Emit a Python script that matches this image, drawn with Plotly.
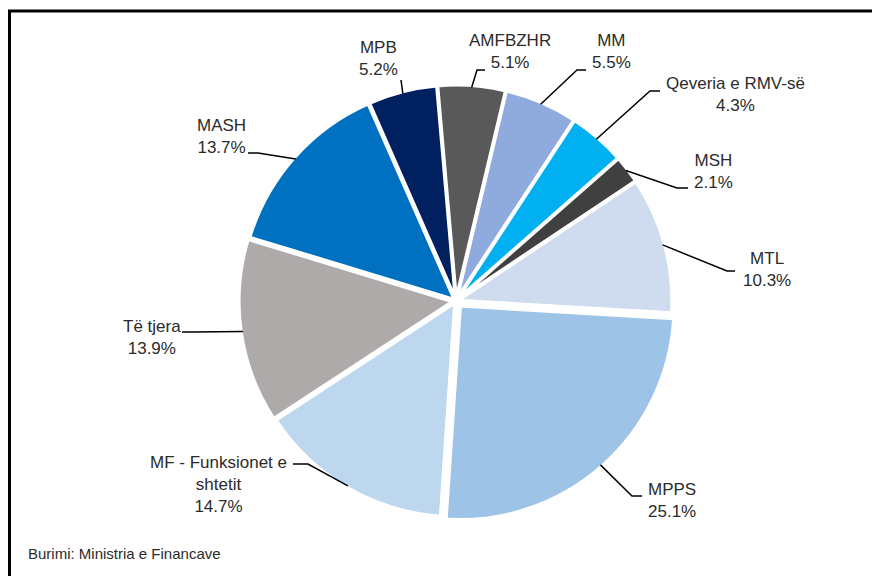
import math
import plotly.graph_objects as go

# ---- data ----
labels = ["AMFBZHR", "MM", "Qeveria e RMV-së", "MSH", "MTL", "MPPS",
          "MF - Funksionet e<br>shtetit", "Të tjera", "MASH", "MPB"]
values = [5.1, 5.5, 4.3, 2.1, 10.3, 25.1, 14.7, 13.9, 13.7, 5.2]
source_note = "Burimi: Ministria e Financave"

# ---- styles ----
colors = ["#595959", "#8FAADC", "#00B0F0", "#404040", "#CFDBEE",
          "#9DC3E6", "#BDD7EE", "#AEAAAA", "#0070C0", "#002060"]
pulls = [0.01, 0.01, 0.01, 0.01, 0.01, 0.03, 0.01, 0.015, 0.01, 0.01]
W, H = 880, 576
OFF = 8  # page body margin of the browser
CX, CY, R = 456, 301, 214
ROT = -5
# label block centres and leader-line elbow points (screen pixels)
label_pos = [(510, 52), (611, 52), (735, 95), (713, 171), (767, 269),
             (672, 500), (218, 484), (152, 337), (221, 136), (378, 59)]
leader_pts = [[(485, 70), (477, 70)], [(586, 70), (577, 70)],
              [(660, 91), (650, 91)], [(688, 188), (677, 188)],
              [(735, 271), (727, 271)], [(642, 496), (632, 496)],
              [(293, 464), (308, 464)], [(182, 332), (194, 332)],
              [(248, 153), (258, 153)], [(401, 80)]]

FONT = "Liberation Sans, Arial, sans-serif"
TXT = "#2b2b2b"

def px(x):
    return (x - OFF) / W

def py(y):
    return 1 - (y - OFF) / H

maxpull = max(pulls)
S = R * (2 + 2 * maxpull)

fig = go.Figure(go.Pie(
    labels=labels, values=values, sort=False, direction="clockwise",
    rotation=ROT, textinfo="none", hoverinfo="label+percent",
    pull=pulls, showlegend=False,
    marker=dict(colors=colors, line=dict(color="white", width=3.5)),
    domain=dict(x=[px(CX - S / 2), px(CX + S / 2)],
                y=[py(CY + S / 2), py(CY - S / 2)]),
))

total = sum(values)
cum = 0
shapes = []
annotations = []
for i, (lab, v) in enumerate(zip(labels, values)):
    mid = ROT + 360 * (cum + v / 2) / total
    cum += v
    a = math.radians(mid)
    rr = R * (1 + pulls[i]) - 2
    ex, ey = CX + rr * math.sin(a), CY - rr * math.cos(a)
    pts = leader_pts[i] + [(ex, ey)]
    path = "M " + " L ".join(f"{px(x):.5f},{py(y):.5f}" for x, y in pts)
    shapes.append(dict(type="path", xref="paper", yref="paper", path=path,
                       line=dict(color="black", width=1.5)))
    lx, ly = label_pos[i]
    annotations.append(dict(
        x=px(lx), y=py(ly), xref="paper", yref="paper", showarrow=False,
        xanchor="center", yanchor="middle", align="center",
        text=f"{lab}<br>{v:.1f}%",
        font=dict(family=FONT, size=17, color=TXT)))

annotations.append(dict(x=px(26), y=py(553), xref="paper", yref="paper",
                        showarrow=False, xanchor="left", yanchor="middle",
                        text=source_note,
                        font=dict(family=FONT, size=15, color=TXT)))

# chart frame (extends past right/bottom edges as in reference)
shapes.append(dict(type="rect", xref="paper", yref="paper",
                   x0=px(9.5), x1=1.05, y0=-0.05, y1=py(11),
                   line=dict(color="black", width=3)))

fig.update_layout(
    width=W, height=H, margin=dict(l=0, r=0, t=0, b=0),
    paper_bgcolor="white", plot_bgcolor="white",
    shapes=shapes, annotations=annotations,
)

fig.write_html("out.html")
